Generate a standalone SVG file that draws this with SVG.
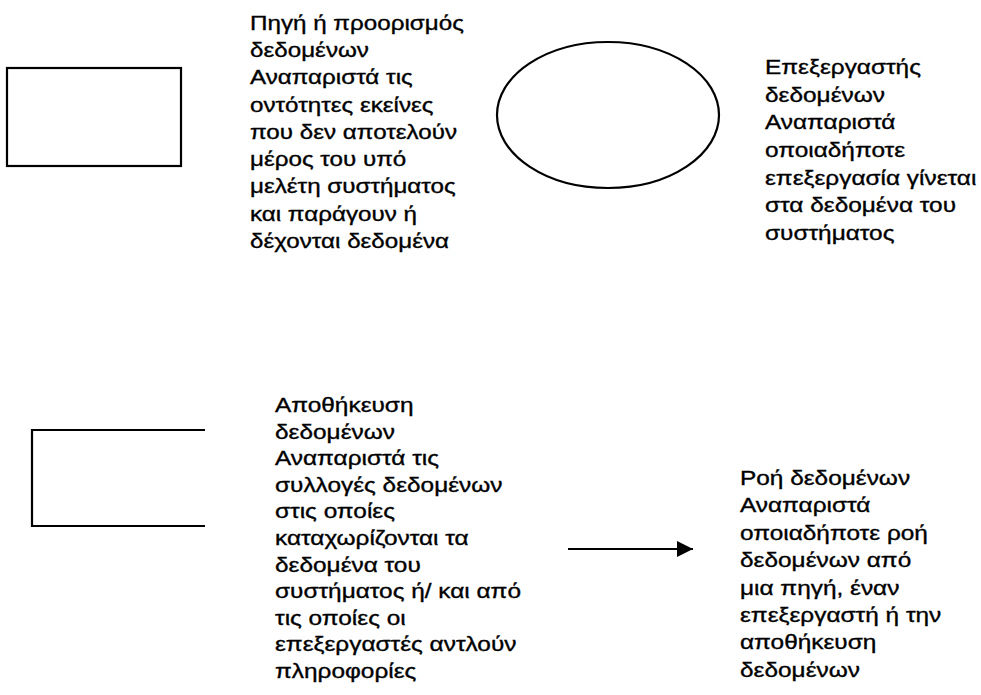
<svg xmlns="http://www.w3.org/2000/svg" width="981" height="695" viewBox="0 0 981 695">
<style>
.shape{fill:none;stroke:#000;stroke-width:2.2}
.lbl{font-family:"Liberation Sans",Arial,sans-serif;font-size:20px;fill:#000;stroke:#000;stroke-width:0.35}
</style>
<defs>
<marker id="ah" viewBox="0 0 10 10" refX="10" refY="5" markerWidth="17" markerHeight="16" markerUnits="userSpaceOnUse" orient="auto">
<path d="M0,0 L10,5 L0,10 z" fill="#000"/>
</marker>
</defs>
<rect width="981" height="695" fill="#fff"/>
<g id="external-entity">
<rect class="shape" x="7" y="68" width="174" height="98"/>
<text class="lbl" transform="matrix(1.21,0,0,1,250,0)">
<tspan x="0" y="30">Πηγή ή προορισμός</tspan>
<tspan x="0" y="57.3">δεδομένων</tspan>
<tspan x="0" y="84.5">Αναπαριστά τις</tspan>
<tspan x="0" y="111.8">οντότητες εκείνες</tspan>
<tspan x="0" y="139">που δεν αποτελούν</tspan>
<tspan x="0" y="166.3">μέρος του υπό</tspan>
<tspan x="0" y="193.5">μελέτη συστήματος</tspan>
<tspan x="0" y="220.8">και παράγουν ή</tspan>
<tspan x="0" y="248">δέχονται δεδομένα</tspan>
</text>
</g>
<g id="process">
<ellipse class="shape" cx="608" cy="115" rx="111" ry="73"/>
<text class="lbl" transform="matrix(1.22,0,0,1,765,0)">
<tspan x="0" y="74">Επεξεργαστής</tspan>
<tspan x="0" y="101.7">δεδομένων</tspan>
<tspan x="0" y="129.3">Αναπαριστά</tspan>
<tspan x="0" y="157">οποιαδήποτε</tspan>
<tspan x="0" y="184.7">επεξεργασία γίνεται</tspan>
<tspan x="0" y="212.3">στα δεδομένα του</tspan>
<tspan x="0" y="240">συστήματος</tspan>
</text>
</g>
<g id="data-store">
<path class="shape" d="M205,430 H32 V526 H205"/>
<text class="lbl" transform="matrix(1.22,0,0,1,275,0)">
<tspan x="0" y="412">Αποθήκευση</tspan>
<tspan x="0" y="438.6">δεδομένων</tspan>
<tspan x="0" y="465.2">Αναπαριστά τις</tspan>
<tspan x="0" y="491.8">συλλογές δεδομένων</tspan>
<tspan x="0" y="518.4">στις οποίες</tspan>
<tspan x="0" y="545">καταχωρίζονται τα</tspan>
<tspan x="0" y="571.6">δεδομένα του</tspan>
<tspan x="0" y="598.2">συστήματος ή/ και από</tspan>
<tspan x="0" y="624.8">τις οποίες οι</tspan>
<tspan x="0" y="651.4">επεξεργαστές αντλούν</tspan>
<tspan x="0" y="678">πληροφορίες</tspan>
</text>
</g>
<g id="connectors">
<line class="shape" x1="568" y1="549" x2="693" y2="549" marker-end="url(#ah)"/>
</g>
<g id="data-flow-label">
<text class="lbl" transform="matrix(1.22,0,0,1,740,0)">
<tspan x="0" y="485">Ροή δεδομένων</tspan>
<tspan x="0" y="512.4">Αναπαριστά</tspan>
<tspan x="0" y="539.8">οποιαδήποτε ροή</tspan>
<tspan x="0" y="567.2">δεδομένων από</tspan>
<tspan x="0" y="594.6">μια πηγή, έναν</tspan>
<tspan x="0" y="622">επεξεργαστή ή την</tspan>
<tspan x="0" y="649.4">αποθήκευση</tspan>
<tspan x="0" y="676.8">δεδομένων</tspan>
</text>
</g>
</svg>
